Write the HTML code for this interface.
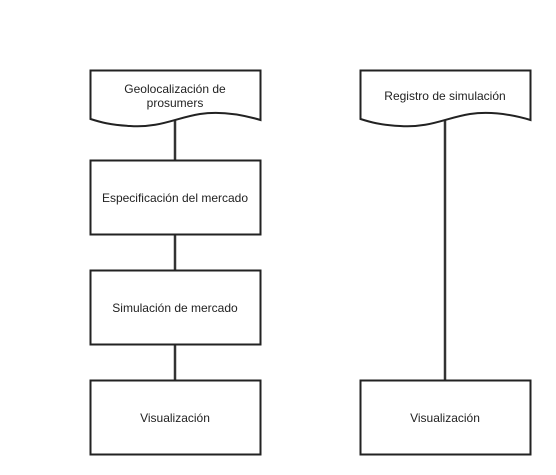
<!DOCTYPE html>
<html><head><meta charset="utf-8"><style>
html,body{margin:0;padding:0;background:#fff;}
svg{display:block;}
text{font-family:"Liberation Sans",Arial,sans-serif;font-size:12px;fill:#222;}
</style></head><body>
<svg width="556" height="475" viewBox="0 0 556 475">
<g stroke="#333" stroke-width="2.5" fill="none">
<line x1="175" y1="120" x2="175" y2="160"/>
<line x1="175" y1="235" x2="175" y2="270"/>
<line x1="175" y1="345" x2="175" y2="380"/>
<line x1="445" y1="120" x2="445" y2="380"/>
</g>
<g stroke="#222" stroke-width="2" fill="#fff">
<path d="M90.5 70.5 H260.5 V120 C240 114 220 111 200 114 C175 118 160 128 130 126 C110 125 100 122 90.5 119 Z"/>
<path d="M360.5 70.5 H530.5 V120 C510 114 490 111 470 114 C445 118 430 128 400 126 C380 125 370 122 360.5 119 Z"/>
<rect x="90.5" y="160.5" width="170" height="74"/>
<rect x="90.5" y="270.5" width="170" height="74"/>
<rect x="90.5" y="380.5" width="170" height="74"/>
<rect x="360.5" y="380.5" width="170" height="74"/>
</g>
<g text-anchor="middle">
<text x="175" y="93">Geolocalización de</text>
<text x="175" y="107">prosumers</text>
<text x="445" y="100">Registro de simulación</text>
<text x="175" y="202">Especificación del mercado</text>
<text x="175" y="312">Simulación de mercado</text>
<text x="175" y="422">Visualización</text>
<text x="445" y="422">Visualización</text>
</g>
</svg>
</body></html>
